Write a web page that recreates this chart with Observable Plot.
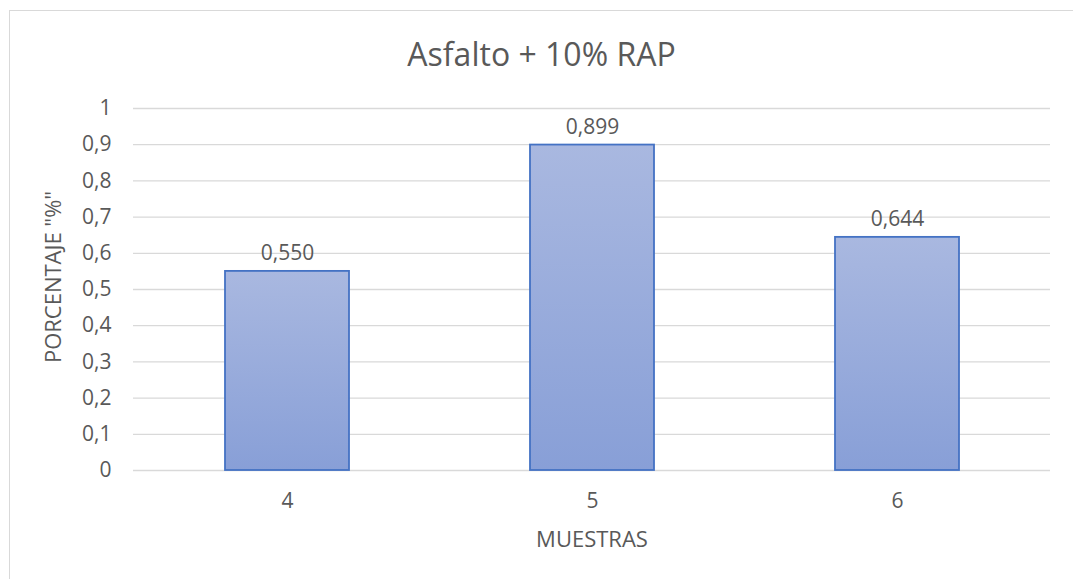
<!DOCTYPE html>
<html>
<head>
<meta charset="utf-8">
<script src="https://cdn.jsdelivr.net/npm/d3@7"></script>
<script src="https://cdn.jsdelivr.net/npm/@observablehq/plot@0.6"></script>
<style>
  html, body { margin: 0; padding: 0; background: #fff; overflow: hidden; width: 1073px; height: 579px; }
  #frame { position: absolute; left: 9px; top: 10px; width: 1200px; height: 700px; border: 1px solid #d9d9d9; box-sizing: border-box; }
  #chart { position: absolute; left: 0; top: 0; }
</style>
</head>
<body>
<div id="frame"></div>
<div id="chart"></div>
<script>
const title = "Asfalto + 10% RAP";
const xLabel = "MUESTRAS";
const yLabel = "PORCENTAJE \"%\"";
const samples = ["4", "5", "6"];
const values = [0.550, 0.899, 0.644];
const yTicks = [0, 0.1, 0.2, 0.3, 0.4, 0.5, 0.6, 0.7, 0.8, 0.9, 1];

const data = samples.map((s, i) => ({sample: s, value: values[i]}));
const comma = v => String(v).replace(".", ",");
const textColor = "#595959";

const svg = Plot.plot({
  width: 1073,
  height: 579,
  marginLeft: 133,
  marginRight: 23,
  marginTop: 108,
  marginBottom: 109,
  style: {fontFamily: "'Open Sans', sans-serif", fontSize: "21px", color: textColor, background: "transparent", overflow: "visible"},
  x: {domain: samples, paddingInner: 0.594, paddingOuter: 0.297, label: null},
  y: {domain: [0, 1], label: null},
  marks: [
    Plot.gridY(yTicks, {stroke: "#d9d9d9", strokeOpacity: 1, strokeWidth: 1.3}),
    Plot.axisY(yTicks, {tickSize: 0, tickPadding: 22, tickFormat: comma, fontSize: 21, fill: textColor, label: null}),
    Plot.axisX({tickSize: 0, tickPadding: 23, fontSize: 21, fill: textColor, label: null}),
    Plot.barY(data, {x: "sample", y: "value", fill: "url(#barGrad)", stroke: "#4472c4", strokeWidth: 1.8}),
    Plot.text(data, {x: "sample", y: "value", text: d => d.value.toFixed(3).replace(".", ","), lineAnchor: "bottom", dy: -11, fontSize: 21, fill: textColor}),
    Plot.text([title], {frameAnchor: "top", lineAnchor: "top", dx: -50.5, dy: -65, fontSize: 32, fill: textColor}),
    Plot.text([xLabel], {frameAnchor: "bottom", lineAnchor: "top", dy: 61, fontSize: 22, fill: textColor}),
    Plot.text([yLabel], {frameAnchor: "left", textAnchor: "middle", lineAnchor: "top", rotate: -90, dx: -88, dy: -12.5, fontSize: 22, fill: textColor})
  ]
});

d3.select(svg).insert("defs", ":first-child").html(
  '<linearGradient id="barGrad" x1="0" y1="0" x2="0" y2="1">' +
  '<stop offset="0" stop-color="#a9b8e0"/>' +
  '<stop offset="1" stop-color="#889fd7"/>' +
  '</linearGradient>'
);

document.getElementById("chart").appendChild(svg);
</script>
</body>
</html>
